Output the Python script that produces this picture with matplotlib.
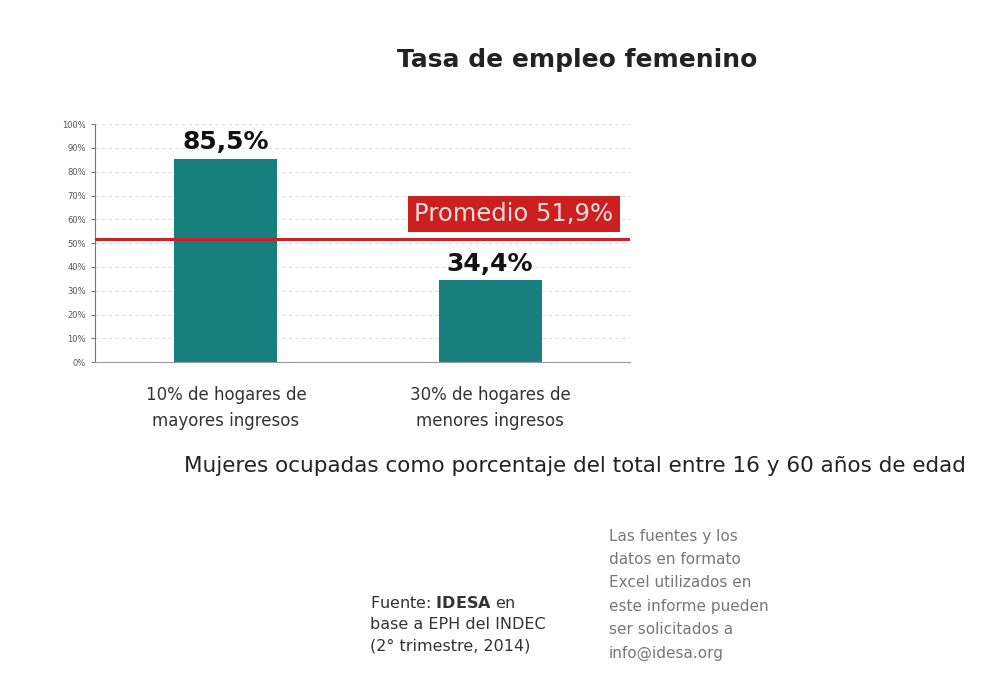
import matplotlib
matplotlib.use("Agg")
import matplotlib.pyplot as plt

categories = ["10% de hogares de\nmayores ingresos", "30% de hogares de\nmenores ingresos"]
values = [85.5, 34.4]
value_labels = ["85,5%", "34,4%"]
promedio = 51.9
promedio_label = "Promedio 51,9%"
yticks = list(range(0, 101, 10))
ytick_labels = [f"{t}%" for t in yticks]

fig = plt.figure(figsize=(10, 6.86), dpi=100)
ax = fig.add_axes([0.095, 0.472, 0.535, 0.347])

x = list(range(len(categories)))
ax.bar(x, values, width=0.39, color="#17807e", zorder=2)
ax.axhline(promedio, color="#c8232a", lw=2.2, zorder=3)
for xi, v, lab in zip(x, values, value_labels):
    ax.text(xi, v + 2, lab, ha="center", va="bottom", fontsize=18, fontweight="bold",
            color="#111111")

ax.set_xlim(-0.496, 1.53)
ax.set_ylim(0, 100)
ax.set_yticks(yticks)
ax.set_yticklabels(ytick_labels, fontsize=6, color="#555555")
ax.set_xticks(x)
ax.set_xticklabels(categories, fontsize=12, color="#333333", linespacing=1.6)
ax.tick_params(axis="x", length=0, pad=17)
ax.tick_params(axis="y", length=3, color="#777777")
ax.yaxis.grid(True, color="#dddddd", lw=0.8, ls=(0, (3, 3)), zorder=0)
for s in ["top", "right"]:
    ax.spines[s].set_visible(False)
ax.spines["left"].set_color("#777777")
ax.spines["bottom"].set_color("#999999")

fig.text(0.514, 0.688, promedio_label, ha="center", va="center", fontsize=17.5, color="#f4dede",
         bbox=dict(boxstyle="square,pad=0.25", fc="#cc1f1f", ec="none"))

fig.text(0.577, 0.912, "Tasa de empleo femenino", ha="center", va="center", fontsize=18,
         fontweight="bold", color="#222222")
fig.text(0.575, 0.321, "Mujeres ocupadas como porcentaje del total entre 16 y 60 años de edad",
         ha="center", va="center", fontsize=15.5, color="#222222")

fig.text(0.37, 0.090, "Fuente: $\\bf{IDESA}$ en\nbase a EPH del INDEC\n(2° trimestre, 2014)",
         ha="left", va="center", fontsize=11.5, color="#333333", linespacing=1.55)
fig.text(0.609, 0.133, "Las fuentes y los\ndatos en formato\nExcel utilizados en\neste informe pueden\nser solicitados a\ninfo@idesa.org",
         ha="left", va="center", fontsize=11, color="#777777", linespacing=1.7)

fig.savefig("out.png", dpi=100)
